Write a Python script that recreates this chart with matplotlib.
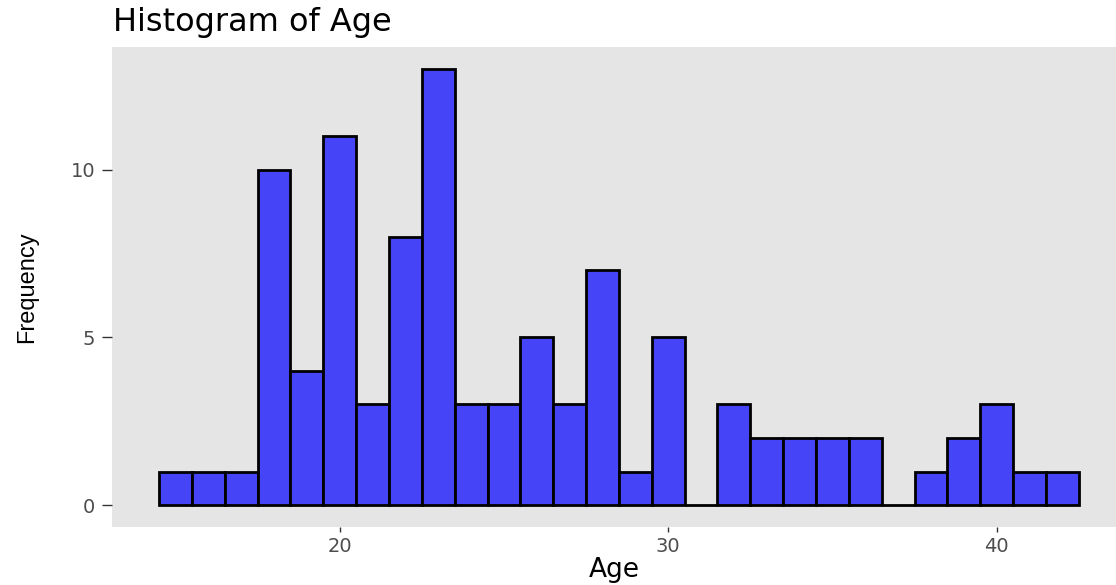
import matplotlib

matplotlib.use("Agg")
import matplotlib.pyplot as plt

# histogram of Age, bin width 1
age_bins = [15, 16, 17, 18, 19, 20, 21, 22, 23, 24, 25, 26, 27, 28,
            29, 30, 31, 32, 33, 34, 35, 36, 37, 38, 39, 40, 41, 42]
counts = [1, 1, 1, 10, 4, 11, 3, 8, 13, 3, 3, 5, 3, 7,
          1, 5, 0, 3, 2, 2, 2, 2, 0, 1, 2, 3, 1, 1]
x_ticks = [20, 30, 40]
y_ticks = [0, 5, 10]

fig = plt.figure(figsize=(11.16, 5.85), dpi=100)
ax = fig.add_axes([112 / 1116, 58 / 585, 1 - 112 / 1116, 480 / 585])
ax.set_facecolor("#E5E5E5")

ax.bar(age_bins, counts, width=1.0, color="#4545F7", edgecolor="black", linewidth=2)

ax.set_xlim(13.07, 43.63)
ax.set_ylim(-0.65, 13.65)
ax.set_xticks(x_ticks)
ax.set_yticks(y_ticks)
for s in ax.spines.values():
    s.set_visible(False)

ax.tick_params(axis="x", length=3.5, width=1, color="#333333", pad=4,
               labelsize=14, labelcolor="#4D4D4D")
ax.tick_params(axis="y", length=7, width=1, color="#333333", pad=5,
               labelsize=14, labelcolor="#4D4D4D")

ax.set_xlabel("Age", fontsize=19, color="black", va="center")
ax.xaxis.set_label_coords(0.5, -0.09)
ax.set_ylabel("Frequency", fontsize=17, family="Liberation Sans",
              color="black", va="center")
ax.yaxis.set_label_coords(-0.085, 0.5)

fig.text(113 / 1116, 1 - 31 / 585, "Histogram of Age", fontsize=23, ha="left", va="baseline")

fig.savefig("out.png", dpi=100)
plt.close()
